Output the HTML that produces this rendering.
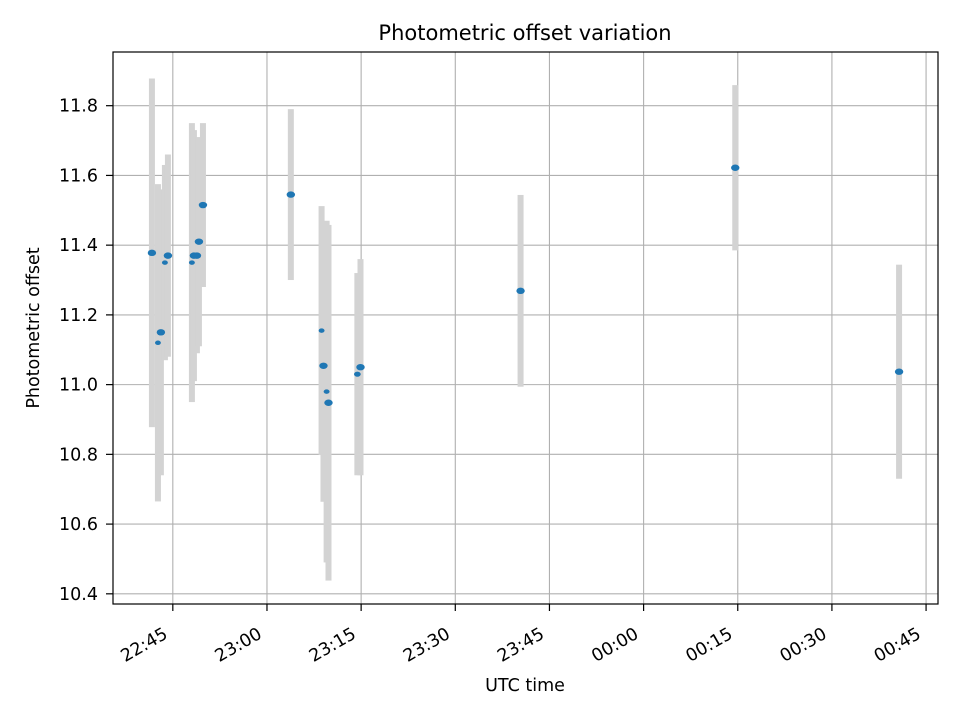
<!DOCTYPE html>
<html><head><meta charset="utf-8"><style>
body{margin:0;background:#fff;}
svg{display:block;font-family:"DejaVu Sans","Liberation Sans",sans-serif;}
</style></head><body>
<svg id="chart" width="960" height="720">
<rect x="0" y="0" width="960" height="720" fill="#fff"/>
<text x="525" y="40" text-anchor="middle" font-size="21">Photometric offset variation</text>
<g id="grid"></g><g id="errs"></g><g id="pts"></g><g id="axes"></g>
<text x="525" y="691" text-anchor="middle" font-size="17.5">UTC time</text>
<text transform="translate(39,328) rotate(-90)" text-anchor="middle" font-size="17.5">Photometric offset</text>
</svg>
<script>
// minutes after 22:45 UTC
const times=[-3.33,-2.37,-1.9,-1.26,-0.78,3.04,3.36,3.84,4.16,4.8,18.8,23.7,24.0,24.5,24.8,29.4,29.9,55.4,89.6,115.7];
const offsets=[11.378,11.12,11.15,11.35,11.37,11.35,11.37,11.37,11.41,11.515,11.545,11.155,11.054,10.98,10.948,11.03,11.05,11.269,11.622,11.037];
const errors=[0.5,0.455,0.41,0.28,0.29,0.4,0.36,0.28,0.3,0.235,0.245,0.357,0.39,0.49,0.51,0.29,0.31,0.275,0.237,0.307];
const markerSizes=[1,0.7,1,0.7,1,0.7,1,1,1,1,1,0.7,1,0.7,1,0.8,1,1,1,1];
const yTicks=[10.4,10.6,10.8,11.0,11.2,11.4,11.6,11.8];
const xTickMins=[0,15,30,45,60,75,90,105,120];
const xTickLabels=["22:45","23:00","23:15","23:30","23:45","00:00","00:15","00:30","00:45"];

const L=113,R=938,T=52,B=604;
const xMin=-9.53,xMax=121.9,yMin=10.3708,yMax=11.954;
const X=m=>L+(m-xMin)/(xMax-xMin)*(R-L);
const Y=v=>B-(v-yMin)/(yMax-yMin)*(B-T);
const NS="http://www.w3.org/2000/svg";
function mk(tag,attrs,parent){const e=document.createElementNS(NS,tag);for(const k in attrs)e.setAttribute(k,attrs[k]);document.getElementById(parent).appendChild(e);return e;}

yTicks.forEach(v=>{
  const g=mk('line',{x1:L,x2:R,y1:Y(v),y2:Y(v),stroke:'#b0b0b0','stroke-width':1.1},'grid');
  
  
  const t=mk('line',{x1:L-7,x2:L,y1:Y(v),y2:Y(v),stroke:'#000','stroke-width':1.2},'axes');
  
  
  const tx=mk('text',{x:L-15,y:Y(v)+6,'text-anchor':'end','font-size':17.5},'axes');
  tx.textContent=v.toFixed(1);
  
  
});
xTickMins.forEach((m,i)=>{
  const g=mk('line',{x1:X(m),x2:X(m),y1:T,y2:B,stroke:'#b0b0b0','stroke-width':1.1},'grid');
  
  
  const t=mk('line',{x1:X(m),x2:X(m),y1:B,y2:B+7,stroke:'#000','stroke-width':1.2},'axes');
  
  
  const tx=mk('text',{transform:`translate(${X(m)-11},${B+21}) rotate(-30)`,x:0,y:14,'text-anchor':'end','font-size':17.5},'axes');
  tx.textContent=xTickLabels[i];
  
  
});
const fr=mk('rect',{x:L,y:T,width:R-L,height:B-T,fill:'none',stroke:'#000','stroke-width':1.2},'axes');



times.forEach((m,i)=>{
  const e=mk('rect',{x:X(m)-3,y:Y(offsets[i]+errors[i]),width:6,height:Y(offsets[i]-errors[i])-Y(offsets[i]+errors[i]),fill:'#d3d3d3'},'errs');
  
  
});
times.forEach((m,i)=>{
  const s=markerSizes[i];
  const p=mk('ellipse',{cx:X(m),cy:Y(offsets[i]),rx:4.2*s,ry:3.2*s,fill:'#1f77b4'},'pts');
  
  
});
</script>
</body></html>
